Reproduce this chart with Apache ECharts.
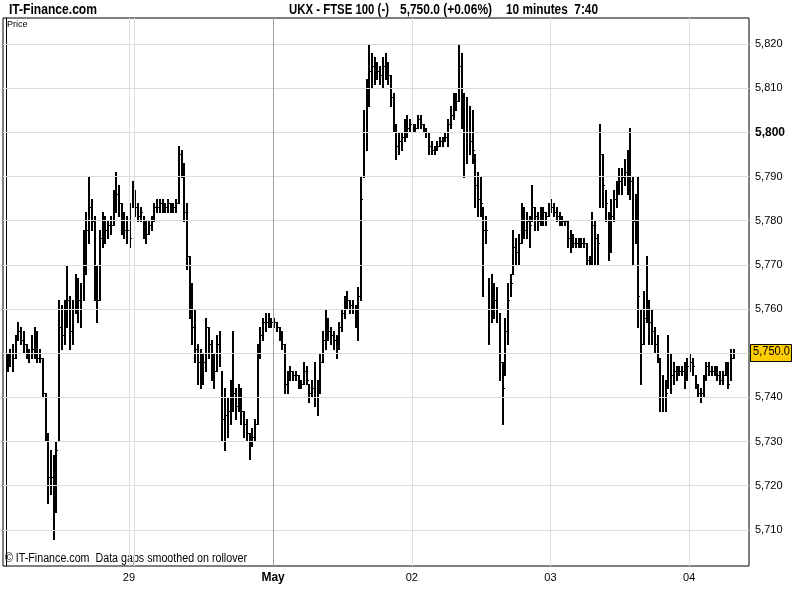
<!DOCTYPE html>
<html><head><meta charset="utf-8">
<script src="https://cdn.jsdelivr.net/npm/echarts@6/dist/echarts.min.js"></script>
<style>html,body{margin:0;padding:0;background:#fff}#c{width:800px;height:600px}</style>
</head><body><div id="c"></div>
<script>
// ---- data (10-minute bars: high / low / close) ----
const highs = [
5750,5751,5752,5754,5757,5756,5755,5752,5751,5754,
5756,5755,5751,5749,5741,5732,5728,5727,5730,5762,
5761,5762,5770,5763,5762,5768,5767,5766,5778,5782,
5790,5785,5781,5770,5778,5782,5781,5780,5781,5787,
5791,5788,5784,5782,5781,5784,5789,5787,5784,5783,
5781,5780,5780,5781,5784,5785,5785,5785,5784,5785,
5784,5784,5785,5797,5796,5793,5784,5772,5766,5760,
5752,5751,5750,5758,5756,5753,5750,5754,5755,5746,
5742,5740,5744,5755,5742,5743,5742,5737,5735,5732,
5733,5735,5752,5756,5758,5759,5759,5758,5758,5757,
5756,5755,5752,5746,5747,5746,5746,5745,5744,5748,
5747,5743,5744,5748,5744,5750,5755,5760,5758,5756,
5755,5754,5757,5760,5763,5764,5762,5762,5761,5765,
5790,5805,5812,5820,5818,5817,5816,5815,5817,5818,
5816,5813,5809,5802,5800,5800,5803,5804,5803,5802,
5802,5804,5804,5802,5801,5800,5798,5797,5798,5799,
5799,5800,5803,5806,5809,5809,5820,5818,5809,5808,
5806,5805,5795,5791,5790,5783,5781,5767,5768,5766,
5765,5759,5748,5758,5766,5768,5778,5776,5777,5784,
5783,5782,5781,5788,5783,5782,5783,5783,5782,5784,
5785,5784,5783,5782,5781,5780,5780,5778,5777,5776,
5776,5776,5776,5775,5772,5782,5780,5777,5802,5795,
5787,5782,5785,5787,5789,5792,5792,5794,5796,5801,
5790,5786,5790,5760,5764,5772,5762,5760,5756,5754,
5749,5745,5744,5754,5750,5748,5747,5747,5747,5748,
5749,5750,5749,5745,5743,5742,5745,5748,5748,5747,
5747,5747,5746,5746,5748,5748,5751,5751];
const lows = [
5746,5747,5746,5749,5753,5752,5750,5749,5748,5749,
5749,5748,5748,5740,5730,5716,5718,5708,5714,5730,
5751,5752,5756,5751,5752,5759,5757,5756,5762,5768,
5775,5778,5762,5757,5762,5774,5775,5776,5777,5779,
5782,5781,5777,5776,5775,5774,5783,5781,5780,5780,
5776,5775,5777,5778,5780,5782,5782,5782,5782,5782,
5782,5782,5782,5784,5790,5780,5769,5758,5752,5748,
5743,5742,5743,5746,5749,5744,5742,5746,5747,5730,
5728,5731,5734,5737,5735,5737,5734,5731,5730,5726,
5729,5730,5734,5749,5753,5755,5756,5756,5756,5755,
5753,5751,5741,5741,5744,5744,5744,5742,5742,5743,
5743,5739,5740,5738,5736,5741,5748,5751,5753,5752,
5751,5749,5751,5755,5758,5760,5759,5759,5756,5753,
5762,5790,5796,5806,5810,5811,5812,5811,5810,5812,
5811,5806,5800,5794,5795,5796,5798,5799,5800,5800,
5800,5801,5801,5800,5799,5795,5795,5795,5796,5797,
5797,5798,5797,5801,5803,5805,5807,5801,5790,5793,
5795,5793,5783,5781,5781,5763,5775,5752,5757,5758,
5757,5744,5734,5745,5752,5763,5768,5770,5770,5775,
5776,5776,5774,5780,5778,5778,5779,5779,5779,5781,
5782,5781,5780,5779,5779,5779,5774,5773,5774,5774,
5774,5774,5774,5770,5770,5770,5770,5770,5783,5783,
5780,5771,5773,5780,5783,5786,5786,5788,5786,5785,
5770,5775,5756,5743,5752,5757,5752,5752,5750,5748,
5737,5737,5737,5742,5741,5743,5744,5745,5745,5742,
5744,5746,5745,5742,5740,5739,5740,5744,5745,5745,
5745,5744,5743,5743,5745,5742,5744,5749];
const closes = [
5748,5750,5749,5753,5755,5753,5752,5750,5750,5751,
5755,5749,5749,5741,5732,5722,5722,5717,5728,5756,
5754,5760,5762,5755,5760,5764,5762,5760,5772,5778,
5783,5780,5766,5762,5776,5778,5778,5779,5779,5785,
5786,5784,5779,5778,5778,5776,5786,5783,5781,5782,
5778,5777,5779,5780,5783,5783,5784,5783,5783,5784,
5783,5783,5784,5795,5792,5782,5772,5762,5756,5751,
5748,5747,5748,5756,5752,5748,5746,5752,5750,5735,
5736,5737,5740,5741,5738,5740,5737,5734,5732,5730,
5731,5734,5750,5754,5757,5757,5758,5757,5757,5756,
5754,5752,5743,5745,5746,5745,5745,5743,5743,5746,
5744,5741,5742,5740,5742,5748,5753,5756,5755,5754,
5753,5752,5756,5759,5761,5762,5761,5760,5758,5763,
5785,5800,5808,5814,5815,5814,5814,5813,5815,5815,
5813,5808,5802,5797,5798,5799,5801,5801,5802,5801,
5801,5803,5802,5801,5800,5797,5796,5796,5797,5798,
5798,5799,5802,5804,5806,5807,5815,5806,5800,5800,
5798,5796,5788,5785,5784,5778,5778,5760,5762,5762,
5760,5748,5742,5755,5762,5766,5774,5773,5775,5780,
5778,5780,5779,5783,5781,5780,5781,5782,5781,5783,
5783,5782,5781,5780,5780,5780,5776,5776,5775,5775,
5775,5775,5775,5771,5771,5779,5776,5775,5795,5788,
5784,5778,5781,5785,5787,5789,5790,5791,5790,5789,
5780,5781,5763,5752,5758,5762,5757,5755,5752,5750,
5740,5740,5741,5750,5745,5746,5745,5746,5746,5744,
5747,5748,5747,5743,5741,5741,5744,5747,5746,5746,
5746,5745,5744,5745,5747,5743,5749,5750];

const dayLabels = ['29', 'May', '02', '03', '04'];
const dayIdx = [45, 98, 149, 200, 251];      // bar index where each label sits
const extraDayLines = [47];                   // extra session boundary line
const monthLineIdx = 98;                      // darker line for month change
const yTicks = [5710,5720,5730,5740,5750,5760,5770,5780,5790,5800,5810,5820];
const lastPrice = 5750.0;
const changePct = 0.06;

const SANS = "'Liberation Sans',Arial,sans-serif";

const bars = highs.map((h, i) => [i, h, lows[i], closes[i]]);
const fmt = v => v.toLocaleString('en-US');

// condensed text helper: scale a text horizontally to fit a target width
const mctx = document.createElement('canvas').getContext('2d');
function fitText(text, font, left, top, width, extra) {
  mctx.font = font;
  const w = mctx.measureText(text).width;
  return Object.assign({
    type: 'text', x: left, y: top, scaleX: width / w, originX: 0,
    style: {text: text, font: font, fill: '#000', textVerticalAlign: 'top'}
  }, extra || {});
}

const chart = echarts.init(document.getElementById('c'), null, {renderer: 'canvas'});

const gridMarks = yTicks.map(v => ({yAxis: v}))
  .concat(dayIdx.concat(extraDayLines).map(v => ({
    xAxis: v,
    lineStyle: v === monthLineIdx ? {color: '#a0a0a0'} : {color: '#dcdcdc'}
  })));

chart.setOption({
  animation: false,
  backgroundColor: '#fff',
  grid: {left: 3, right: 51, top: 18, bottom: 34, show: true, borderColor: '#000', borderWidth: 1, backgroundColor: '#fff'},
  xAxis: {
    type: 'value', min: -1.3, max: 273,
    axisLine: {show: false}, axisTick: {show: false}, splitLine: {show: false},
    axisLabel: {
      customValues: dayIdx, margin: 6, color: '#000', fontSize: 11, fontFamily: SANS,
      formatter: v => {
        const k = dayIdx.indexOf(v);
        const t = k >= 0 ? dayLabels[k] : '';
        return v === monthLineIdx ? '{b|' + t + '}' : t;
      },
      rich: {b: {fontWeight: 'bold', fontSize: 12, fontFamily: SANS, color: '#000'}}
    }
  },
  yAxis: {
    type: 'value', position: 'right', min: 5701.8, max: 5825.9, scale: true,
    axisLine: {show: true, lineStyle: {color: '#000', width: 1}},
    axisTick: {show: true, customValues: yTicks, length: 4, lineStyle: {color: '#000'}},
    splitLine: {show: false},
    axisLabel: {
      customValues: yTicks, margin: 6, color: '#000', fontSize: 11, fontFamily: SANS,
      formatter: v => v === 5800 ? '{b|' + fmt(v) + '}' : fmt(v),
      rich: {b: {fontWeight: 'bold', fontSize: 12, fontFamily: SANS, color: '#000'}}
    }
  },
  series: [
    {
      type: 'line', data: [], z: 1, silent: true,
      markLine: {
        silent: true, symbol: ['none', 'none'], label: {show: false}, animation: false,
        lineStyle: {color: '#dcdcdc', width: 1, type: 'solid'},
        emphasis: {disabled: true},
        data: gridMarks
      }
    },
    {
      type: 'custom', z: 3, silent: true,
      data: bars,
      encode: {x: 0, y: [1, 2, 3]},
      renderItem: function (params, api) {
        const i = api.value(0);
        const top = api.coord([i, api.value(1)]);
        const bot = api.coord([i, api.value(2)]);
        const cl = api.coord([i, api.value(3)]);
        const x = Math.round(top[0]);
        const y1 = Math.round(top[1]);
        const y2 = Math.max(Math.round(bot[1]), y1 + 1);
        return {
          type: 'group',
          children: [
            {type: 'rect', shape: {x: x, y: y1, width: 2, height: y2 - y1 + 1}, style: {fill: '#000'}},
            {type: 'rect', shape: {x: x + 2, y: Math.round(cl[1]), width: 1, height: 1}, style: {fill: '#000'}}
          ]
        };
      }
    }
  ]
});

const py = chart.convertToPixel({yAxisIndex: 0}, lastPrice);
const priceTxt = lastPrice.toLocaleString('en-US', {minimumFractionDigits: 1});
const TF = 'bold 14px ' + SANS;
chart.setOption({
  graphic: [
    fitText('IT-Finance.com', TF, 9, 3, 88),
    fitText('UKX - FTSE 100 (-)', TF, 289, 3, 100),
    fitText(priceTxt + ' (+' + changePct.toFixed(2) + '%)', TF, 400, 3, 92),
    fitText('10 minutes  7:40', TF, 506, 3, 92),
    {type: 'text', left: 7, top: 20, style: {text: 'Price', font: '9px ' + SANS, fill: '#000'}},
    fitText('\u00A9 IT-Finance.com  Data gaps smoothed on rollover', '12px ' + SANS, 5, 553, 242),
    {type: 'rect', shape: {x: 750.5, y: Math.round(py) - 8.5, width: 41, height: 17}, style: {fill: '#FFCC00', stroke: '#000', lineWidth: 1}, z: 10},
    fitText(priceTxt, '12px ' + SANS, 753, Math.round(py) - 7, 37, {z: 11})
  ]
});
</script></body></html>
